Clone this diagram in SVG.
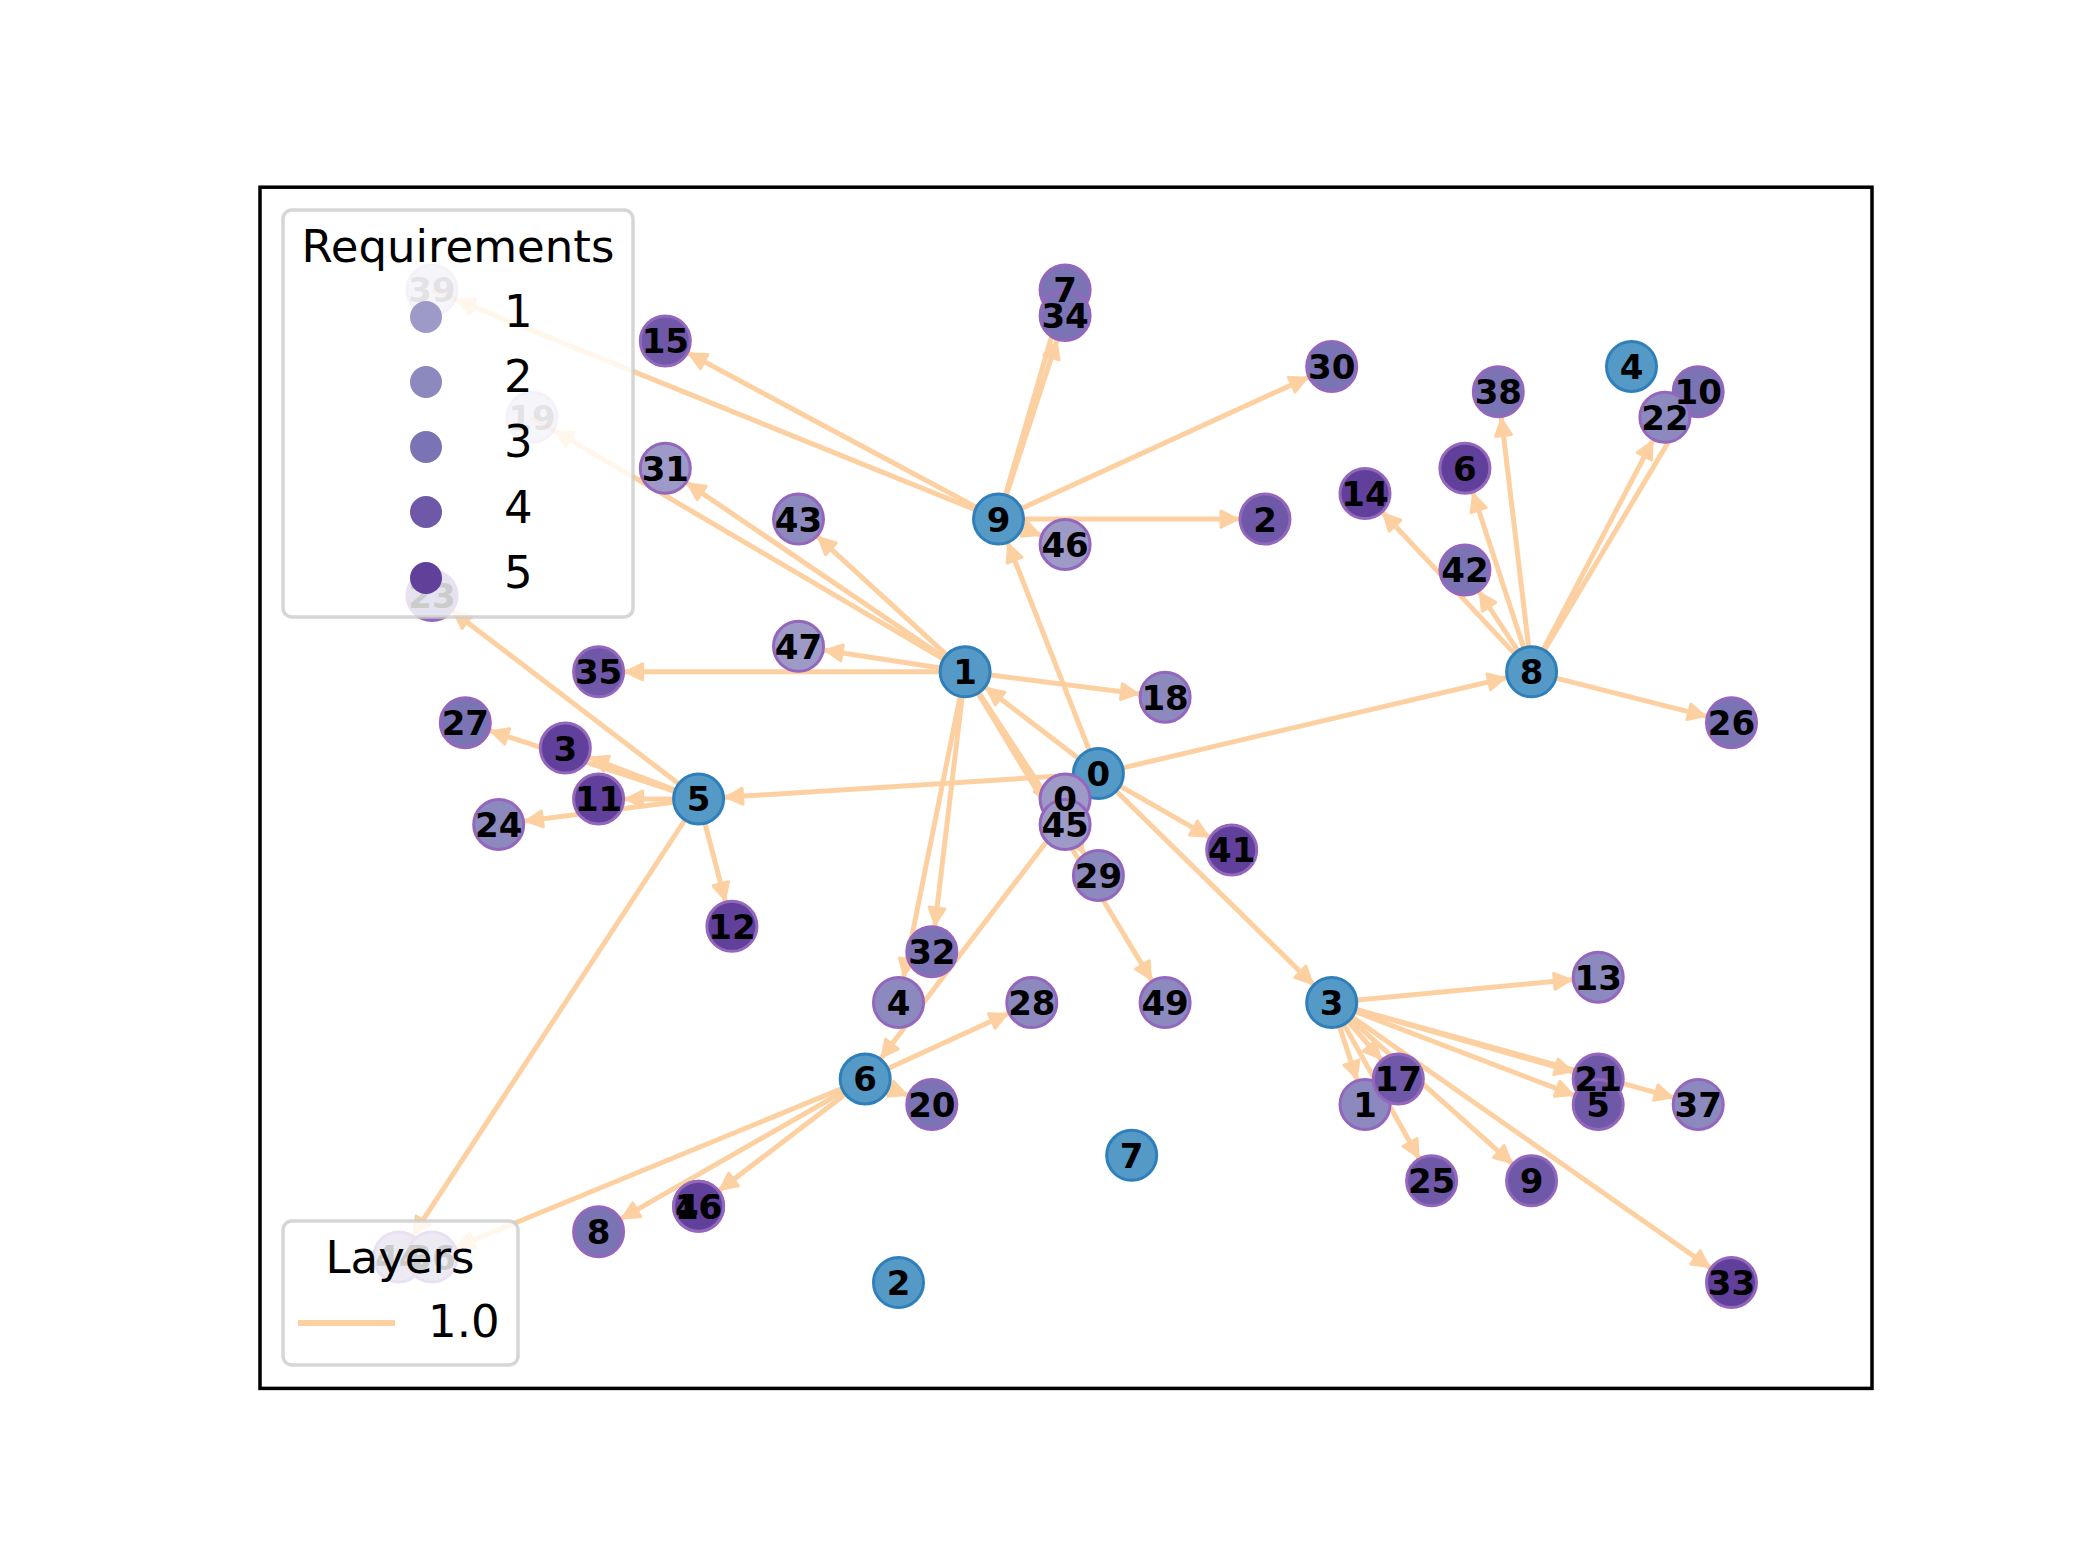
<svg xmlns="http://www.w3.org/2000/svg" width="2080" height="1560" viewBox="0 0 2080 1560">
<style>
.e{stroke:#fdd0a2;stroke-width:5;fill:none;marker-end:url(#ah)}
.b{fill:#5599c6;stroke:#2f7fba;stroke-width:3}
.p{stroke:#9467bd;stroke-width:3}
.l1{fill:#9e9ac8}.l2{fill:#8c89bf}.l3{fill:#7a74b4}.l4{fill:#6f58a8}.l5{fill:#61409b}
.t{font-family:"DejaVu Sans",sans-serif;font-weight:bold;font-size:34px;text-anchor:middle;fill:#000}
.lg{font-family:"DejaVu Sans",sans-serif;font-size:45px;fill:#000}
.box{fill:#fff;fill-opacity:0.8;stroke:#cccccc;stroke-opacity:0.8;stroke-width:3.5}
.f{opacity:0.45}
</style>
<defs>
<marker id="ah" markerUnits="userSpaceOnUse" orient="auto" refX="0" refY="0" markerWidth="60" markerHeight="30" overflow="visible">
<path d="M -44 -8 L -28 0 L -44 8 z" fill="#fdd0a2" stroke="#fdd0a2" stroke-width="3" stroke-linejoin="round"/>
</marker>
</defs>
<rect width="2080" height="1560" fill="#fff"/>
<g id="edges">
<line class="e" x1="998.5" y1="519.1" x2="665.3" y2="340.9"/>
<line class="e" x1="998.5" y1="519.1" x2="432" y2="290"/>
<line class="e" x1="998.5" y1="519.1" x2="1065.1" y2="290"/>
<line class="e" x1="998.5" y1="519.1" x2="1065.1" y2="315.5"/>
<line class="e" x1="998.5" y1="519.1" x2="1331.7" y2="366.4"/>
<line class="e" x1="998.5" y1="519.1" x2="1265" y2="519.1"/>
<line class="e" x1="998.5" y1="519.1" x2="1065.1" y2="544.5"/>
<line class="e" x1="1098.4" y1="773.6" x2="998.5" y2="519.1"/>
<line class="e" x1="965.1" y1="671.8" x2="665.3" y2="468.2"/>
<line class="e" x1="965.1" y1="671.8" x2="532" y2="417.3"/>
<line class="e" x1="965.1" y1="671.8" x2="798.5" y2="519.1"/>
<line class="e" x1="965.1" y1="671.8" x2="798.5" y2="646.3"/>
<line class="e" x1="965.1" y1="671.8" x2="598.6" y2="671.8"/>
<line class="e" x1="965.1" y1="671.8" x2="1165.1" y2="697.2"/>
<line class="e" x1="965.1" y1="671.8" x2="931.8" y2="951.7"/>
<line class="e" x1="965.1" y1="671.8" x2="898.5" y2="1002.6"/>
<line class="e" x1="965.1" y1="671.8" x2="1065.1" y2="824.5"/>
<line class="e" x1="965.1" y1="671.8" x2="1098.4" y2="875.4"/>
<line class="e" x1="965.1" y1="671.8" x2="1165.1" y2="1002.6"/>
<line class="e" x1="1098.4" y1="773.6" x2="965.1" y2="671.8"/>
<line class="e" x1="1098.4" y1="773.6" x2="698.6" y2="799"/>
<line class="e" x1="1098.4" y1="773.6" x2="1531.6" y2="671.8"/>
<line class="e" x1="1098.4" y1="773.6" x2="1231.7" y2="849.9"/>
<line class="e" x1="1098.4" y1="773.6" x2="1331.7" y2="1002.6"/>
<line class="e" x1="1098.4" y1="773.6" x2="865.2" y2="1079"/>
<line class="e" x1="698.6" y1="799" x2="432" y2="595.4"/>
<line class="e" x1="698.6" y1="799" x2="465.3" y2="722.7"/>
<line class="e" x1="698.6" y1="799" x2="565.3" y2="748.1"/>
<line class="e" x1="698.6" y1="799" x2="598.6" y2="799"/>
<line class="e" x1="698.6" y1="799" x2="498.7" y2="824.5"/>
<line class="e" x1="698.6" y1="799" x2="731.9" y2="926.3"/>
<line class="e" x1="698.6" y1="799" x2="398.7" y2="1257.1"/>
<line class="e" x1="865.2" y1="1079" x2="1031.8" y2="1002.6"/>
<line class="e" x1="865.2" y1="1079" x2="931.8" y2="1104.4"/>
<line class="e" x1="865.2" y1="1079" x2="698.6" y2="1206.2"/>
<line class="e" x1="865.2" y1="1079" x2="598.6" y2="1231.7"/>
<line class="e" x1="865.2" y1="1079" x2="432" y2="1257.1"/>
<line class="e" x1="1531.6" y1="671.8" x2="1365" y2="493.6"/>
<line class="e" x1="1531.6" y1="671.8" x2="1464.9" y2="570"/>
<line class="e" x1="1531.6" y1="671.8" x2="1464.9" y2="468.2"/>
<line class="e" x1="1531.6" y1="671.8" x2="1498.3" y2="391.8"/>
<line class="e" x1="1531.6" y1="671.8" x2="1664.9" y2="417.3"/>
<line class="e" x1="1531.6" y1="671.8" x2="1698.2" y2="391.8"/>
<line class="e" x1="1531.6" y1="671.8" x2="1731.5" y2="722.7"/>
<line class="e" x1="1331.7" y1="1002.6" x2="1598.2" y2="977.2"/>
<line class="e" x1="1331.7" y1="1002.6" x2="1598.2" y2="1079"/>
<line class="e" x1="1331.7" y1="1002.6" x2="1598.2" y2="1104.4"/>
<line class="e" x1="1331.7" y1="1002.6" x2="1698.2" y2="1104.4"/>
<line class="e" x1="1331.7" y1="1002.6" x2="1365" y2="1104.4"/>
<line class="e" x1="1331.7" y1="1002.6" x2="1398.3" y2="1079"/>
<line class="e" x1="1331.7" y1="1002.6" x2="1431.6" y2="1180.8"/>
<line class="e" x1="1331.7" y1="1002.6" x2="1531.6" y2="1180.8"/>
<line class="e" x1="1331.7" y1="1002.6" x2="1731.5" y2="1282.6"/>
</g>
<g id="nodes">
<g id="node-b0"><circle class="b" cx="1098.4" cy="773.6" r="25"/></g>
<g id="node-b1"><circle class="b" cx="965.1" cy="671.8" r="25"/></g>
<g id="node-b9"><circle class="b" cx="998.5" cy="519.1" r="25"/></g>
<g id="node-b8"><circle class="b" cx="1531.6" cy="671.8" r="25"/></g>
<g id="node-b5"><circle class="b" cx="698.6" cy="799" r="25"/></g>
<g id="node-b3"><circle class="b" cx="1331.7" cy="1002.6" r="25"/></g>
<g id="node-b6"><circle class="b" cx="865.2" cy="1079" r="25"/></g>
<g id="node-b7"><circle class="b" cx="1131.7" cy="1155.3" r="25"/></g>
<g id="node-b2"><circle class="b" cx="898.5" cy="1282.6" r="25"/></g>
<g id="node-b4"><circle class="b" cx="1631.5" cy="366.4" r="25"/></g>
<g id="node-p39" class="f"><circle class="p l1" cx="432" cy="290" r="25"/></g>
<g id="node-p19" class="f"><circle class="p l1" cx="532" cy="417.3" r="25"/></g>
<g id="node-p23"><circle class="p l3" cx="432" cy="595.4" r="25"/></g>
<g id="node-p44"><circle class="p l1" cx="398.7" cy="1257.1" r="25"/></g>
<g id="node-p36"><circle class="p l1" cx="432" cy="1257.1" r="25"/></g>
<g id="node-p7"><circle class="p l3" cx="1065.1" cy="290" r="25"/></g>
<g id="node-p34"><circle class="p l3" cx="1065.1" cy="315.5" r="25"/></g>
<g id="node-p15"><circle class="p l4" cx="665.3" cy="340.9" r="25"/></g>
<g id="node-p30"><circle class="p l3" cx="1331.7" cy="366.4" r="25"/></g>
<g id="node-p38"><circle class="p l3" cx="1498.3" cy="391.8" r="25"/></g>
<g id="node-p10"><circle class="p l3" cx="1698.2" cy="391.8" r="25"/></g>
<g id="node-p22"><circle class="p l2" cx="1664.9" cy="417.3" r="25"/></g>
<g id="node-p6"><circle class="p l5" cx="1464.9" cy="468.2" r="25"/></g>
<g id="node-p14"><circle class="p l5" cx="1365" cy="493.6" r="25"/></g>
<g id="node-p31"><circle class="p l1" cx="665.3" cy="468.2" r="25"/></g>
<g id="node-p43"><circle class="p l2" cx="798.5" cy="519.1" r="25"/></g>
<g id="node-p2"><circle class="p l4" cx="1265" cy="519.1" r="25"/></g>
<g id="node-p46"><circle class="p l1" cx="1065.1" cy="544.5" r="25"/></g>
<g id="node-p42"><circle class="p l3" cx="1464.9" cy="570" r="25"/></g>
<g id="node-p47"><circle class="p l1" cx="798.5" cy="646.3" r="25"/></g>
<g id="node-p35"><circle class="p l4" cx="598.6" cy="671.8" r="25"/></g>
<g id="node-p18"><circle class="p l2" cx="1165.1" cy="697.2" r="25"/></g>
<g id="node-p26"><circle class="p l3" cx="1731.5" cy="722.7" r="25"/></g>
<g id="node-p27"><circle class="p l3" cx="465.3" cy="722.7" r="25"/></g>
<g id="node-p3"><circle class="p l5" cx="565.3" cy="748.1" r="25"/></g>
<g id="node-p11"><circle class="p l5" cx="598.6" cy="799" r="25"/></g>
<g id="node-p0"><circle class="p l1" cx="1065.1" cy="799" r="25"/></g>
<g id="node-p45"><circle class="p l1" cx="1065.1" cy="824.5" r="25"/></g>
<g id="node-p24"><circle class="p l2" cx="498.7" cy="824.5" r="25"/></g>
<g id="node-p41"><circle class="p l5" cx="1231.7" cy="849.9" r="25"/></g>
<g id="node-p29"><circle class="p l2" cx="1098.4" cy="875.4" r="25"/></g>
<g id="node-p12"><circle class="p l5" cx="731.9" cy="926.3" r="25"/></g>
<g id="node-p32"><circle class="p l3" cx="931.8" cy="951.7" r="25"/></g>
<g id="node-p4"><circle class="p l2" cx="898.5" cy="1002.6" r="25"/></g>
<g id="node-p28"><circle class="p l2" cx="1031.8" cy="1002.6" r="25"/></g>
<g id="node-p49"><circle class="p l2" cx="1165.1" cy="1002.6" r="25"/></g>
<g id="node-p13"><circle class="p l2" cx="1598.2" cy="977.2" r="25"/></g>
<g id="node-p21"><circle class="p l4" cx="1598.2" cy="1079" r="25"/></g>
<g id="node-p5"><circle class="p l4" cx="1598.2" cy="1104.4" r="25"/></g>
<g id="node-p37"><circle class="p l2" cx="1698.2" cy="1104.4" r="25"/></g>
<g id="node-p1"><circle class="p l2" cx="1365" cy="1104.4" r="25"/></g>
<g id="node-p17"><circle class="p l4" cx="1398.3" cy="1079" r="25"/></g>
<g id="node-p20"><circle class="p l3" cx="931.8" cy="1104.4" r="25"/></g>
<g id="node-p25"><circle class="p l4" cx="1431.6" cy="1180.8" r="25"/></g>
<g id="node-p9"><circle class="p l4" cx="1531.6" cy="1180.8" r="25"/></g>
<g id="node-p40"><circle class="p l5" cx="698.6" cy="1206.2" r="25"/></g>
<g id="node-p16"><circle class="p l5" cx="698.6" cy="1206.2" r="25"/></g>
<g id="node-p8"><circle class="p l3" cx="598.6" cy="1231.7" r="25"/></g>
<g id="node-p33"><circle class="p l5" cx="1731.5" cy="1282.6" r="25"/></g>
</g>
<g id="labels">
<text class="t" x="1098.4" y="786">0</text>
<text class="t" x="965.1" y="684.2">1</text>
<text class="t" x="998.5" y="531.5">9</text>
<text class="t" x="1531.6" y="684.2">8</text>
<text class="t" x="698.6" y="811.4">5</text>
<text class="t" x="1331.7" y="1015">3</text>
<text class="t" x="865.2" y="1091.4">6</text>
<text class="t" x="1131.7" y="1167.7">7</text>
<text class="t" x="898.5" y="1295">2</text>
<text class="t" x="1631.5" y="378.8">4</text>
<text class="t f" x="432" y="302.4">39</text>
<text class="t f" x="532" y="429.7">19</text>
<text class="t" x="432" y="607.8">23</text>
<text class="t" x="398.7" y="1269.5">44</text>
<text class="t" x="432" y="1269.5">36</text>
<text class="t" x="1065.1" y="327.9">34</text>
<text class="t" x="1065.1" y="302.4">7</text>
<text class="t" x="665.3" y="353.3">15</text>
<text class="t" x="1331.7" y="378.8">30</text>
<text class="t" x="1498.3" y="404.2">38</text>
<text class="t" x="1698.2" y="404.2">10</text>
<text class="t" x="1664.9" y="429.7">22</text>
<text class="t" x="1464.9" y="480.6">6</text>
<text class="t" x="1365" y="506">14</text>
<text class="t" x="665.3" y="480.6">31</text>
<text class="t" x="798.5" y="531.5">43</text>
<text class="t" x="1265" y="531.5">2</text>
<text class="t" x="1065.1" y="556.9">46</text>
<text class="t" x="1464.9" y="582.4">42</text>
<text class="t" x="798.5" y="658.7">47</text>
<text class="t" x="598.6" y="684.2">35</text>
<text class="t" x="1165.1" y="709.6">18</text>
<text class="t" x="1731.5" y="735.1">26</text>
<text class="t" x="465.3" y="735.1">27</text>
<text class="t" x="565.3" y="760.5">3</text>
<text class="t" x="598.6" y="811.4">11</text>
<text class="t" x="1065.1" y="836.9">45</text>
<text class="t" x="1065.1" y="811.4">0</text>
<text class="t" x="498.7" y="836.9">24</text>
<text class="t" x="1231.7" y="862.3">41</text>
<text class="t" x="1098.4" y="887.8">29</text>
<text class="t" x="731.9" y="938.7">12</text>
<text class="t" x="931.8" y="964.1">32</text>
<text class="t" x="898.5" y="1015">4</text>
<text class="t" x="1031.8" y="1015">28</text>
<text class="t" x="1165.1" y="1015">49</text>
<text class="t" x="1598.2" y="989.6">13</text>
<text class="t" x="1598.2" y="1116.8">5</text>
<text class="t" x="1598.2" y="1091.4">21</text>
<text class="t" x="1698.2" y="1116.8">37</text>
<text class="t" x="1365" y="1116.8">1</text>
<text class="t" x="1398.3" y="1091.4">17</text>
<text class="t" x="931.8" y="1116.8">20</text>
<text class="t" x="1431.6" y="1193.2">25</text>
<text class="t" x="1531.6" y="1193.2">9</text>
<text class="t" x="698.6" y="1218.6">46</text>
<text class="t" x="698.6" y="1218.6">16</text>
<text class="t" x="598.6" y="1244.1">8</text>
<text class="t" x="1731.5" y="1295">33</text>
</g>
<g id="legend-requirements">
<rect class="box" x="283" y="210" width="350" height="407" rx="9"/>
<text class="lg" x="458" y="262" text-anchor="middle">Requirements</text>
<circle class="l1" cx="426" cy="317" r="16"/><text class="lg" x="504" y="327">1</text>
<circle class="l2" cx="426" cy="382" r="16"/><text class="lg" x="504" y="392">2</text>
<circle class="l3" cx="426" cy="447" r="16"/><text class="lg" x="504" y="457">3</text>
<circle class="l4" cx="426" cy="512" r="16"/><text class="lg" x="504" y="523">4</text>
<circle class="l5" cx="426" cy="578" r="16"/><text class="lg" x="504" y="588">5</text>
</g>
<g id="legend-layers">
<rect class="box" x="283" y="1221" width="235" height="144" rx="9"/>
<text class="lg" x="400" y="1273" text-anchor="middle">Layers</text>
<line x1="298" y1="1323" x2="395" y2="1323" stroke="#fdd0a2" stroke-width="6"/>
<text class="lg" x="428" y="1337">1.0</text>
</g>
<rect x="260" y="187.2" width="1612" height="1201.2" fill="none" stroke="#000" stroke-width="3.5"/>
</svg>
